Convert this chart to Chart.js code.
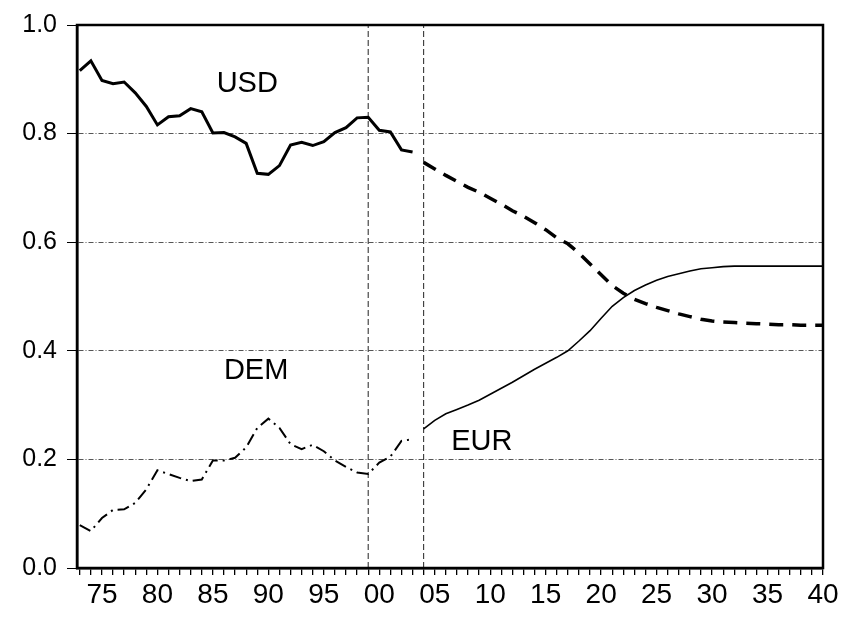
<!DOCTYPE html>
<html>
<head>
<meta charset="utf-8">
<script src="https://cdn.jsdelivr.net/npm/chart.js@4/dist/chart.umd.min.js"></script>
<style>
  html, body { margin: 0; padding: 0; background: #fff; }
  #wrap { width: 847px; height: 623px; }
</style>
</head>
<body>
<div id="wrap"><canvas id="c" width="847" height="623"></canvas></div>
<script>
// ---- data ----
const histYears = [1973,1974,1975,1976,1977,1978,1979,1980,1981,1982,1983,1984,1985,1986,1987,1988,1989,1990,1991,1992,1993,1994,1995,1996,1997,1998,1999,2000,2001,2002,2003];
const usdHist = [0.916,0.934,0.898,0.892,0.895,0.875,0.850,0.816,0.831,0.833,0.846,0.840,0.801,0.802,0.794,0.782,0.727,0.725,0.741,0.779,0.784,0.778,0.785,0.802,0.811,0.829,0.830,0.806,0.803,0.770,0.766];
const demHist = [0.079,0.068,0.092,0.107,0.108,0.120,0.145,0.180,0.173,0.166,0.160,0.163,0.198,0.198,0.203,0.222,0.258,0.275,0.258,0.228,0.219,0.227,0.215,0.198,0.186,0.176,0.173,0.194,0.205,0.234,0.237];

const fcYears = [2004,2005,2006,2007,2008,2009,2010,2011,2012,2013,2014,2015,2016,2017,2018,2019,2020,2021,2022,2023,2024,2025,2026,2027,2028,2029,2030,2031,2032,2033,2034,2035,2036,2037,2038,2039,2040];
const usdForecast = [0.747,0.735,0.723,0.712,0.701,0.692,0.681,0.670,0.658,0.648,0.636,0.623,0.608,0.597,0.580,0.560,0.540,0.520,0.506,0.495,0.487,0.480,0.474,0.468,0.463,0.458,0.455,0.453,0.452,0.451,0.450,0.449,0.448,0.448,0.447,0.447,0.447];
const eurForecast = [0.256,0.272,0.284,0.292,0.300,0.309,0.320,0.331,0.342,0.354,0.366,0.377,0.388,0.400,0.418,0.437,0.460,0.482,0.498,0.511,0.521,0.530,0.537,0.542,0.547,0.551,0.553,0.555,0.556,0.556,0.556,0.556,0.556,0.556,0.556,0.556,0.556];

const markerYears = [1999, 2004];           // vertical dashed lines
const tickYears = [];                        // one tick per year
for (let y = 1973; y <= 2040; y++) tickYears.push(y);
const yTicks = [0, 0.2, 0.4, 0.6, 0.8, 1.0];

const seriesNames = ['USD', 'DEM', 'EUR'];
const nameX = [1988.1, 1988.9, 2009.25];
const nameY = [0.891, 0.363, 0.232];

// ---- chart ----
const FONT = '"Liberation Sans", Arial, Helvetica, sans-serif';
const pts = (xs, ys) => xs.map((x, i) => ({ x: x, y: ys[i] }));

const datasets = [
  { data: pts(histYears, usdHist), borderColor: '#000', borderWidth: 3, tension: 0 },
  { data: pts(fcYears, usdForecast), borderColor: '#000', borderWidth: 3.5, borderDash: [14, 9], tension: 0 },
  { data: pts(histYears, demHist), borderColor: '#000', borderWidth: 2, borderDash: [12, 5, 2, 5], tension: 0 },
  { data: pts(fcYears, eurForecast), borderColor: '#000', borderWidth: 1.6, tension: 0 }
];
markerYears.forEach(m => datasets.push({
  data: [{ x: m, y: 0 }, { x: m, y: 1 }],
  borderColor: '#222', borderWidth: 1, borderDash: [6, 3]
}));

const framePlugin = {
  id: 'frame',
  afterDatasetsDraw(chart) {
    const a = chart.chartArea, ctx = chart.ctx;
    ctx.save();
    ctx.strokeStyle = '#000';
    ctx.lineWidth = 2.5;
    ctx.strokeRect(a.left, a.top, a.right - a.left, a.bottom - a.top);
    ctx.restore();
  }
};

const namePlugin = {
  id: 'names',
  afterDatasetsDraw(chart) {
    const ctx = chart.ctx, xs = chart.scales.x, ys = chart.scales.y;
    ctx.save();
    ctx.fillStyle = '#000';
    ctx.font = '29px ' + FONT;
    ctx.textAlign = 'center';
    ctx.textBaseline = 'middle';
    seriesNames.forEach((n, i) => {
      ctx.fillText(n, xs.getPixelForValue(nameX[i]), ys.getPixelForValue(nameY[i]));
    });
    ctx.restore();
  }
};

new Chart(document.getElementById('c'), {
  type: 'line',
  data: { datasets: datasets },
  options: {
    responsive: false,
    animation: false,
    devicePixelRatio: 1,
    layout: { padding: { top: 18, right: 24, left: 0, bottom: 0 } },
    elements: { point: { radius: 0 }, line: { fill: false } },
    plugins: { legend: { display: false }, tooltip: { enabled: false } },
    scales: {
      x: {
        type: 'linear',
        min: 1972.75,
        max: 2040,
        afterBuildTicks: axis => { axis.ticks = tickYears.map(v => ({ value: v })); },
        afterFit: axis => { axis.height = 55; },
        grid: { display: true, drawOnChartArea: false, drawTicks: true, tickLength: 7, color: '#000', tickColor: '#000', lineWidth: 1.3 },
        border: { display: true, color: '#000', width: 2.5 },
        ticks: {
          autoSkip: false, maxRotation: 0, minRotation: 0, padding: 3,
          color: '#000', font: { family: FONT, size: 28 },
          callback: v => (v % 5 === 0 ? String(v % 100).padStart(2, '0') : '')
        }
      },
      y: {
        min: 0,
        max: 1,
        afterBuildTicks: axis => { axis.ticks = yTicks.map(v => ({ value: v })); },
        afterFit: axis => { axis.width = 77; },
        grid: { display: true, drawOnChartArea: true, drawTicks: true, tickLength: 10, color: '#555', tickColor: '#000', lineWidth: 1 },
        border: { display: true, color: '#000', width: 2.5, dash: [5, 2, 1, 2] },
        ticks: {
          padding: 10, color: '#000', font: { family: FONT, size: 25 },
          callback: v => v.toFixed(1)
        }
      }
    }
  },
  plugins: [framePlugin, namePlugin]
});
</script>
</body>
</html>
